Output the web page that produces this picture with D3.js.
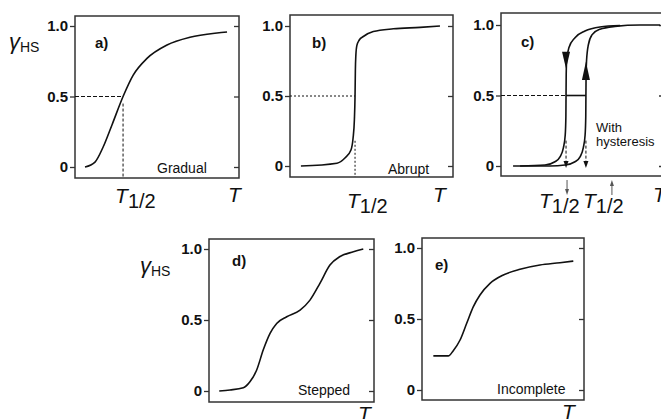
<!DOCTYPE html>
<html>
<head>
<meta charset="utf-8">
<script src="https://cdn.jsdelivr.net/npm/d3@7"></script>
<style>
  html, body { margin: 0; padding: 0; background: #fff; }
  svg { display: block; }
</style>
</head>
<body>
<svg id="chart" width="661" height="419"></svg>
<script>
// Spin-crossover transition types: high-spin fraction γHS versus temperature T
// (T is on a relative 0–100 scale in every panel)

const tickValues = [0, 0.5, 1];
const tickLabels = ["0", "0.5", "1.0"];

// a) gradual
const gradualT  = [6.1, 12.2, 17.1, 22.6, 29.3, 35.4, 43.9, 56.1, 70.1, 86.6, 92.7];
const gradualHS = [0, 0.035, 0.14, 0.30, 0.5, 0.65, 0.77, 0.865, 0.92, 0.95, 0.957];
const gradualHalf = 29.3;

// b) abrupt
const abruptT  = [6.7, 28.8, 33.7, 37.4, 38.7, 39.5, 39.9, 40.1, 40.4, 41.0, 42.5, 45.0, 51.1, 63.4, 79.8, 92.0];
const abruptHS = [0, 0.02, 0.057, 0.114, 0.2, 0.33, 0.5, 0.68, 0.79, 0.86, 0.9, 0.925, 0.96, 0.98, 0.99, 1.0];
const abruptHalf = 39.9;

// c) with hysteresis: heating (up) and cooling (down) branches
const heatingT  = [7.4, 30.1, 39.3, 45.4, 48.5, 50.5, 51.6, 52.0, 52.1, 52.2, 52.5, 53.6, 55.8, 60.7, 69.9, 85.3, 97.5];
const heatingHS = [0, 0, 0.007, 0.03, 0.065, 0.13, 0.22, 0.35, 0.5, 0.65, 0.75, 0.86, 0.93, 0.97, 0.99, 1.0, 1.0];
const coolingT  = [11.7, 27.0, 33.1, 36.2, 38.3, 39.4, 39.8, 39.9, 40.0, 40.3, 41.7, 45.4, 51.5, 60.7, 73.0];
const coolingHS = [0, 0.007, 0.03, 0.065, 0.13, 0.22, 0.35, 0.5, 0.65, 0.75, 0.84, 0.91, 0.957, 0.986, 0.996];
const coolingHalf = 39.9;
const heatingHalf = 52.1;

// d) stepped
const steppedT  = [6.2, 12.7, 20.8, 24.8, 28.9, 32.9, 37.0, 41.0, 47.1, 55.2, 61.2, 67.3, 73.3, 79.4, 87.5, 93.5];
const steppedHS = [0, 0.007, 0.023, 0.065, 0.148, 0.29, 0.406, 0.476, 0.523, 0.57, 0.64, 0.76, 0.887, 0.947, 0.98, 1.0];

// e) incomplete
const incompleteT  = [7, 16.2, 19.3, 23.5, 27.6, 31.7, 35.8, 42, 50.2, 60.5, 72.8, 85.2, 93.4];
const incompleteHS = [0.24, 0.24, 0.277, 0.352, 0.47, 0.587, 0.669, 0.751, 0.81, 0.85, 0.88, 0.896, 0.908];

const FONT = "'Liberation Sans', Arial, Helvetica, sans-serif";
const INK = "#111";
const FRAME = "#333";

const svg = d3.select("#chart");
svg.append("rect").attr("width", 661).attr("height", 419).attr("fill", "#fff");

const zip = (ts, vs) => ts.map((t, i) => [t, vs[i]]);

function makePanel(box) {
  const g = svg.append("g");
  const x = d3.scaleLinear().domain([0, 100]).range([box.left, box.right]);
  const y = d3.scaleLinear().domain([0, 1]).range([box.y0, box.y1]);

  g.append("rect")
    .attr("x", box.left).attr("y", box.top)
    .attr("width", box.right - box.left).attr("height", box.bottom - box.top)
    .attr("fill", "none").attr("stroke", FRAME).attr("stroke-width", 1.5);

  const left = g.append("g")
    .call(d3.axisLeft(y).tickValues(tickValues)
      .tickFormat((d, i) => tickLabels[i]).tickSize(5).tickPadding(2))
    .attr("transform", `translate(${box.left},0)`);
  left.select(".domain").remove();
  left.selectAll("line").attr("stroke", FRAME).attr("stroke-width", 1.3);
  left.selectAll("text")
    .attr("fill", INK)
    .style("font-family", FONT).style("font-size", "15px").style("font-weight", "bold");

  const right = g.append("g")
    .call(d3.axisLeft(y).tickValues(tickValues).tickFormat("").tickSize(5))
    .attr("transform", `translate(${box.right},0)`);
  right.select(".domain").remove();
  right.selectAll("line").attr("stroke", FRAME).attr("stroke-width", 1.3);

  const line = d3.line().x(d => x(d[0])).y(d => y(d[1])).curve(d3.curveMonotoneX);
  return { g, x, y, line, box };
}

function drawCurve(p, ts, vs) {
  p.g.append("path")
    .attr("d", p.line(zip(ts, vs)))
    .attr("fill", "none").attr("stroke", INK)
    .attr("stroke-width", 1.6).attr("stroke-linejoin", "round");
}

function dashed(p, x1, y1, x2, y2, dash) {
  p.g.append("line")
    .attr("x1", x1).attr("y1", y1).attr("x2", x2).attr("y2", y2)
    .attr("stroke", INK).attr("stroke-width", 1)
    .attr("stroke-dasharray", dash || "4,2");
}

function txt(x, y, s, size, weight, style) {
  return svg.append("text")
    .attr("x", x).attr("y", y)
    .attr("fill", INK)
    .style("font-family", FONT)
    .style("font-size", size + "px")
    .style("font-weight", weight || "normal")
    .style("font-style", style || "normal")
    .text(s);
}

function tHalfLabel(x, y) {
  const t = svg.append("text").attr("x", x).attr("y", y)
    .attr("fill", INK).style("font-family", FONT);
  t.append("tspan").style("font-size", "21px").style("font-style", "italic").text("T");
  t.append("tspan").style("font-size", "20px").attr("dy", 5).text("1/2");
}

function gammaLabel(x, y) {
  const t = svg.append("text").attr("x", x).attr("y", y)
    .attr("fill", INK).style("font-family", FONT);
  t.append("tspan").style("font-size", "22px").style("font-style", "italic").text("γ");
  t.append("tspan").style("font-size", "14px").attr("dy", 3).text("HS");
}

// ---- a) Gradual
const pa = makePanel({ left: 75, right: 239, top: 16, bottom: 178, y0: 167, y1: 26 });
dashed(pa, pa.x(0), pa.y(0.5), pa.x(gradualHalf), pa.y(0.5), "4,2");
dashed(pa, pa.x(gradualHalf), pa.y(0.45), pa.x(gradualHalf), pa.box.bottom, "3,2");
drawCurve(pa, gradualT, gradualHS);
txt(95, 48, "a)", 15, "bold");
txt(157, 173, "Gradual", 14);
gammaLabel(9, 49);
tHalfLabel(pa.x(gradualHalf) - 8, 203);
txt(228, 202, "T", 21, "normal", "italic");

// ---- b) Abrupt
const pb = makePanel({ left: 290, right: 453, top: 15, bottom: 177, y0: 166, y1: 26 });
dashed(pb, pb.x(0), pb.y(0.5), pb.x(abruptHalf), pb.y(0.5), "2,2");
dashed(pb, pb.x(abruptHalf), pb.y(0.18), pb.x(abruptHalf), pb.box.bottom, "2,2");
drawCurve(pb, abruptT, abruptHS);
txt(312, 48, "b)", 15, "bold");
txt(388, 174, "Abrupt", 14);
tHalfLabel(pb.x(abruptHalf) - 8, 208);
txt(433, 202, "T", 21, "normal", "italic");

// ---- c) With hysteresis
const pc = makePanel({ left: 501, right: 664, top: 13, bottom: 176, y0: 166, y1: 25 });
dashed(pc, pc.x(0), pc.y(0.5), pc.x(coolingHalf), pc.y(0.5), "4,2");
drawCurve(pc, coolingT, coolingHS);
drawCurve(pc, heatingT, heatingHS);
// horizontal bar joining the two transition temperatures at γHS = 0.5
pc.g.append("line")
  .attr("x1", pc.x(coolingHalf)).attr("x2", pc.x(heatingHalf))
  .attr("y1", pc.y(0.5)).attr("y2", pc.y(0.5))
  .attr("stroke", INK).attr("stroke-width", 1.6);
// direction arrowheads on the branches
function tri(cx, tipY, baseY, half) {
  pc.g.append("path")
    .attr("d", `M${cx},${tipY}L${cx - half},${baseY}L${cx + half},${baseY}Z`)
    .attr("fill", INK);
}
tri(pc.x(coolingHalf), pc.y(0.69), pc.y(0.81), 4);
tri(pc.x(heatingHalf), pc.y(0.74), pc.y(0.61), 4);
// dashed drop lines with arrowheads to the temperature axis
[coolingHalf, heatingHalf].forEach(th => {
  const cx = pc.x(th);
  dashed(pc, cx, pc.y(0.18), cx, pc.y(0) - 2, "3,2");
  pc.g.append("path")
    .attr("d", `M${cx},${pc.y(0) + 2}L${cx - 2.5},${pc.y(0) - 5}L${cx + 2.5},${pc.y(0) - 5}Z`)
    .attr("fill", INK);
});
txt(521, 47, "c)", 15, "bold");
txt(596, 132, "With", 13);
txt(596, 146, "hysteresis", 13);
// T½↓ and T½↑ labels with their small arrows
const arrowsG = svg.append("g").attr("stroke", "#555").attr("fill", "#555");
const downX = pc.x(coolingHalf) + 1, upX = pc.x(heatingHalf) + 26;
arrowsG.append("line").attr("x1", downX).attr("x2", downX).attr("y1", 180).attr("y2", 190).attr("stroke-width", 1);
arrowsG.append("path").attr("d", `M${downX},195L${downX - 2},189L${downX + 2},189Z`).attr("stroke", "none");
arrowsG.append("line").attr("x1", upX).attr("x2", upX).attr("y1", 185).attr("y2", 195).attr("stroke-width", 1);
arrowsG.append("path").attr("d", `M${upX},180L${upX - 2},186L${upX + 2},186Z`).attr("stroke", "none");
tHalfLabel(539, 208);
tHalfLabel(583, 208);
txt(653, 202, "T", 21, "normal", "italic");

// ---- d) Stepped
const pd = makePanel({ left: 209, right: 374, top: 239, bottom: 402, y0: 391, y1: 249 });
drawCurve(pd, steppedT, steppedHS);
txt(232, 266, "d)", 15, "bold");
txt(298, 395, "Stepped", 14);
gammaLabel(140, 273);
txt(358, 421, "T", 21, "normal", "italic");

// ---- e) Incomplete
const pe = makePanel({ left: 422, right: 584, top: 238, bottom: 400, y0: 390, y1: 248 });
drawCurve(pe, incompleteT, incompleteHS);
txt(435, 270, "e)", 15, "bold");
txt(497, 394, "Incomplete", 14);
txt(562, 419, "T", 21, "normal", "italic");
</script>
</body>
</html>
